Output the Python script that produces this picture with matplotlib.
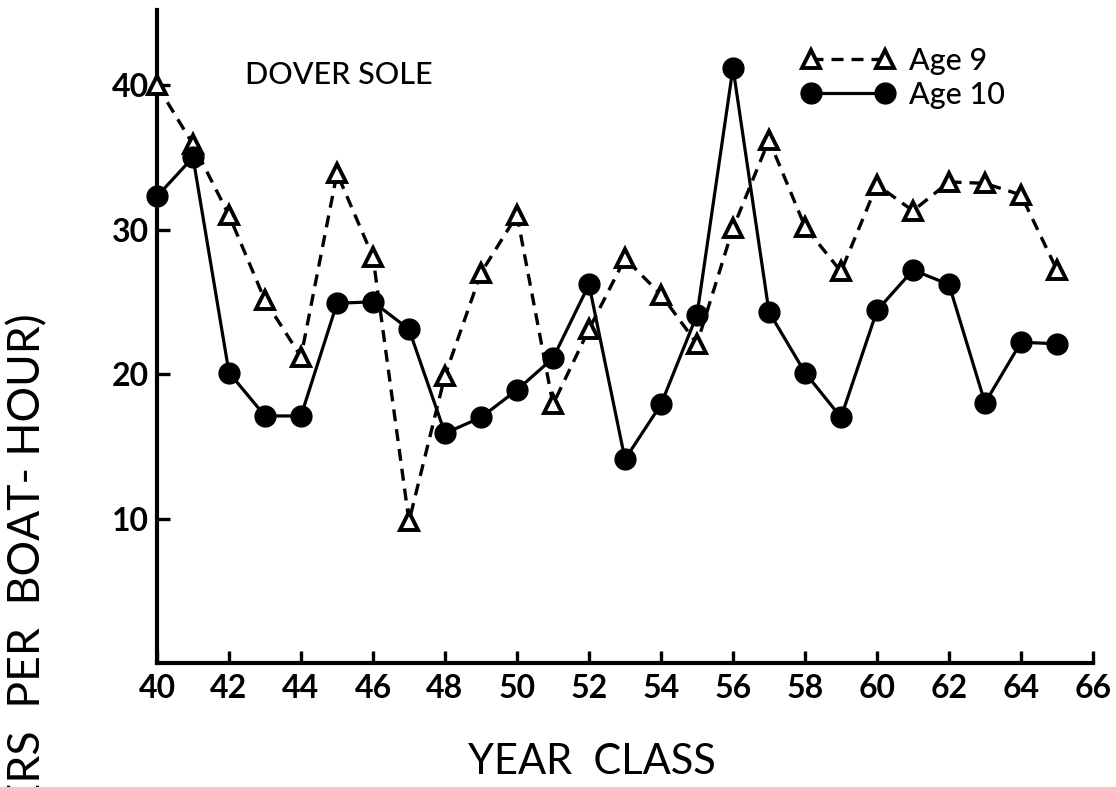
import matplotlib
matplotlib.use("Agg")
import matplotlib.pyplot as plt

# Year classes (19xx) and catch per boat-hour of Dover sole
year_class = [40, 41, 42, 43, 44, 45, 46, 47, 48, 49, 50, 51, 52,
              53, 54, 55, 56, 57, 58, 59, 60, 61, 62, 63, 64, 65]
age9 = [40.0, 35.9, 31.0, 25.1, 21.2, 33.9, 28.1, 9.8, 19.9, 27.0, 31.0, 17.9, 23.1,
        28.0, 25.5, 22.1, 30.1, 36.2, 30.2, 27.1, 33.1, 31.3, 33.3, 33.2, 32.4, 27.2]
age10 = [32.3, 35.0, 20.1, 17.1, 17.1, 24.9, 25.0, 23.1, 15.9, 17.0, 18.9, 21.1, 26.2,
         14.1, 17.9, 24.1, 41.2, 24.3, 20.1, 17.0, 24.4, 27.2, 26.2, 18.0, 22.2, 22.1]

x_ticks = [40, 42, 44, 46, 48, 50, 52, 54, 56, 58, 60, 62, 64, 66]
y_ticks = [10, 20, 30, 40]
y_tick_labels = ["10", "20", "30", "40"]

FONT = "Lato"
W, H = 1116, 787
fig = plt.figure(figsize=(W / 100, H / 100), dpi=100)
ax = fig.add_axes([157 / W, (H - 663) / H, (1093 - 157) / W, (663 - 10) / H])

ax.set_xlim(40, 66)
ax.set_ylim(0, 45.2)

# age 9: open triangles joined by a dashed line
ax.plot(year_class, age9, color="black", lw=2.4, dashes=(3.6, 2.4),
        marker="^", ms=13, mfc="white", mec="black", mew=2.8,
        clip_on=False, zorder=3, label="Age 9")
# age 10: filled circles joined by a solid line
ax.plot(year_class, age10, color="black", lw=2.3, ls="-",
        marker="o", ms=15, mfc="black", mec="black",
        clip_on=False, zorder=4, label="Age 10")

for side in ("top", "right"):
    ax.spines[side].set_visible(False)
for side in ("left", "bottom"):
    ax.spines[side].set_linewidth(3.0)

ax.set_xticks(x_ticks)
ax.set_xticklabels([str(t) for t in x_ticks])
ax.set_yticks(y_ticks)
ax.set_yticklabels(y_tick_labels)
ax.tick_params(axis="x", direction="in", length=9, width=2.4, pad=8,
               labelsize=23)
ax.tick_params(axis="y", direction="in", length=9, width=2.4, pad=6,
               labelsize=23)
for lab in ax.get_xticklabels() + ax.get_yticklabels():
    lab.set_fontfamily(FONT)
    lab.set_fontweight("bold")

fig.text(245 / W, 1 - 75.5 / H, "DOVER SOLE", ha="left", va="center",
         fontsize=22, family=FONT, fontweight="medium")

fig.text(592 / W, 1 - 762 / H, "YEAR  CLASS", ha="center", va="center",
         fontsize=30, family=FONT)

fig.text(28 / W, 1 - 313 / H, "CATCH  (NUMBERS  PER  BOAT- HOUR)",
         rotation=90, ha="center", va="top", fontsize=32, family=FONT)

leg = ax.legend(loc="upper left", bbox_to_anchor=(802 / W, 1 - 47 / H),
                bbox_transform=fig.transFigure, frameon=False,
                numpoints=2, handlelength=3.0, handletextpad=0.5,
                labelspacing=0.2, borderpad=0, borderaxespad=0,
                prop={"family": FONT, "size": 22, "weight": "medium"})

fig.savefig("out.png", dpi=100, facecolor="white")
